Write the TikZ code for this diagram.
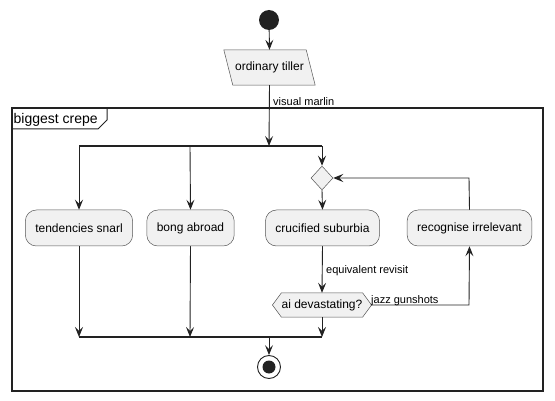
\documentclass[tikz,border=0pt]{standalone}
\usepackage{fontspec}
\setmainfont{Liberation Sans}
\usetikzlibrary{shapes.geometric,arrows.meta,calc}
\definecolor{boxfill}{HTML}{F1F1F1}
\definecolor{boxline}{HTML}{555555}
\definecolor{dark}{HTML}{222222}
\begin{document}
\begin{tikzpicture}[x=1pt,y=-1pt,
  conn/.style={line width=0.9pt,draw=dark},
  arr/.style={conn,-{Stealth[length=10pt,width=8pt,inset=4pt]}},
  act/.style={rectangle,rounded corners=11pt,draw=boxline,fill=boxfill,line width=0.5pt,
    minimum height=36pt,inner xsep=10pt,font=\fontsize{12}{14}\selectfont},
  lbl/.style={font=\fontsize{11}{13}\selectfont,inner sep=0pt},
  bar/.style={line width=1.4pt,draw=dark}]
\useasboundingbox (0,0) rectangle (555,401);
% start
\node[circle,fill=dark,minimum size=20pt,inner sep=0pt] (start) at (269,20) {};
% parallelogram
\node[font=\fontsize{12}{14}\selectfont,inner sep=0pt,minimum width=82pt,minimum height=35pt] (tiller) at (269.5,67.5) {ordinary tiller};
\draw[fill=boxfill,draw=boxline,line width=0.5pt]
  ($(tiller.north west)+(-4.5,0)$) -- ($(tiller.north east)+(-4.5,0)$) --
  ($(tiller.south east)+(4.5,0)$) -- ($(tiller.south west)+(4.5,0)$) -- cycle;
\node[font=\fontsize{12}{14}\selectfont,inner sep=0pt] at (tiller.center) {ordinary tiller};
% frame
\draw[line width=1.3pt,draw=dark] (12,108) rectangle (543,391);
\draw[line width=1pt,draw=dark] (12,129) -- (98,129) -- (107,120) -- (107,108);
\node[anchor=base west,font=\fontsize{14}{16}\selectfont,inner sep=0pt] (title) at (13.5,124) {biggest crepe};
% fork
\coordinate (forkL) at (79,146);
\coordinate (forkM) at (269,146);
\coordinate (forkB) at (190,146);
\coordinate (forkR) at (322,146);
% activities
\node[act] (tend) at (79,228) {tendencies snarl};
\node[act] (bong) at (190.5,228) {bong abroad};
\node[act] (cruc) at (322.5,228) {crucified suburbia};
\node[act] (recog) at (469.5,228) {recognise irrelevant};
\node[diamond,draw=boxline,fill=boxfill,line width=0.5pt,minimum width=22pt,minimum height=24pt,inner sep=0pt] (merge) at (322,178) {};
% decision hexagon
\node[font=\fontsize{12}{14}\selectfont,inner sep=0pt,minimum width=80pt,minimum height=24pt] (dec) at (322,305) {ai devastating?};
\draw[fill=boxfill,draw=boxline,line width=0.5pt]
  (dec.north west) -- (dec.north east) -- ($(dec.east)+(9,0)$) -- (dec.south east) --
  (dec.south west) -- ($(dec.west)+(-9,0)$) -- cycle;
\node[font=\fontsize{12}{14}\selectfont,inner sep=0pt] at (dec.center) {ai devastating?};
\coordinate (decE) at ($(dec.east)+(9,0)$);
% join
\coordinate (joinL) at (79,337);
\coordinate (joinB) at (190,337);
\coordinate (joinR) at (322,337);
\coordinate (joinM) at (269,337);
% end
\node[circle,draw=dark,fill=white,line width=0.9pt,minimum size=23pt,inner sep=0pt] (stop) at (269,367) {};
\node[circle,fill=dark,minimum size=13pt,inner sep=0pt] (stopin) at (stop.center) {};
% connectors
\draw[arr] (start) -- (tiller.north);
\draw[arr] (tiller.south) -- (forkM);
\node[lbl,anchor=base west] (lvm) at (273,106) {visual marlin};
\draw[bar] (forkL) -- (forkR);
\draw[arr] (forkL) -- (tend.north);
\draw[arr] (forkB) -- (bong.north);
\draw[arr] (forkR) -- (merge.north);
\draw[arr] (merge.south) -- (cruc.north);
\draw[arr] (cruc.south) -- (dec.north);
\node[lbl,anchor=base west] (leq) at (326,273) {equivalent revisit};
\coordinate (loopB) at (469,305);
\coordinate (loopT) at (469,178);
\draw[arr] (decE) -- (loopB) -- (recog.south);
\node[lbl,anchor=base west] (ljazz) at (371,303) {jazz gunshots};
\draw[arr] (recog.north) -- (loopT) -- (merge.east);
\draw[arr] (tend.south) -- (joinL);
\draw[arr] (bong.south) -- (joinB);
\draw[arr] (dec.south) -- (joinR);
\draw[bar] (joinL) -- (joinR);
\draw[arr] (joinM) -- (stop.north);
\end{tikzpicture}
\end{document}
